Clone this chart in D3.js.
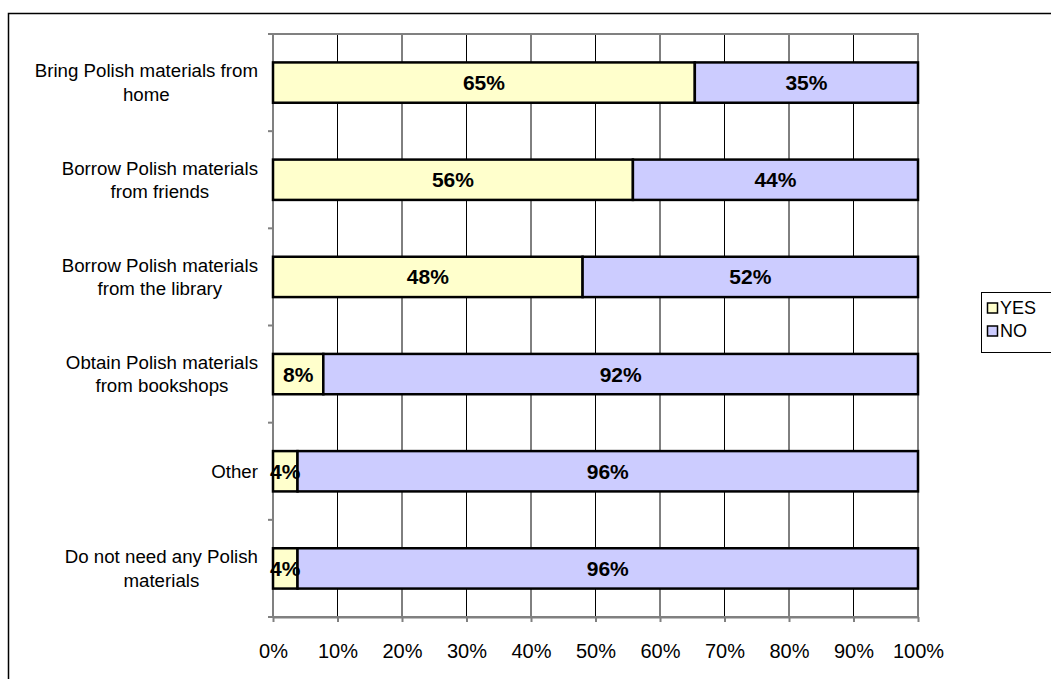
<!DOCTYPE html>
<html>
<head>
<meta charset="utf-8">
<script src="https://cdn.jsdelivr.net/npm/d3@7/dist/d3.min.js"></script>
<style>
  html, body { margin: 0; padding: 0; background: #fff; }
  svg { display: block; font-family: Arial, "Liberation Sans", sans-serif; }
</style>
</head>
<body>
<svg id="chart" width="1051" height="679"></svg>
<script>
const categories = [
  ["Bring Polish materials from", "home"],
  ["Borrow Polish materials", "from friends"],
  ["Borrow Polish materials", "from the library"],
  ["Obtain Polish materials", "from bookshops"],
  ["Other"],
  ["Do not need any Polish", "materials"]
];
const seriesNames = ["YES", "NO"];
const yesValues = [65.4, 55.8, 48.0, 7.8, 3.8, 3.8];
const noValues = [34.6, 44.2, 52.0, 92.2, 96.2, 96.2];
const yesLabels = ["65%", "56%", "48%", "8%", "4%", "4%"];
const noLabels = ["35%", "44%", "52%", "92%", "96%", "96%"];
const xTicks = [0, 10, 20, 30, 40, 50, 60, 70, 80, 90, 100];
const colors = ["#FFFFCC", "#CCCCFF"];

const svg = d3.select("#chart");
const plot = { left: 273, right: 918, top: 34, bottom: 617 };

// outer chart border
svg.append("rect")
  .attr("x", 8.5).attr("y", 13.5)
  .attr("width", 1100).attr("height", 700)
  .attr("fill", "none").attr("stroke", "#000").attr("stroke-width", 1.5);

const x = d3.scaleLinear().domain([0, 100]).range([plot.left, plot.right]);
const idx = categories.map((d, i) => i);
const y = d3.scaleBand().domain(idx).range([plot.top, plot.bottom])
  .paddingInner(0.585).paddingOuter(0.2925);

// vertical gridlines
svg.append("g").selectAll("line").data(xTicks.slice(1, -1)).join("line")
  .attr("x1", d => x(d)).attr("x2", d => x(d))
  .attr("y1", plot.top).attr("y2", plot.bottom)
  .attr("stroke", "#000").attr("stroke-width", 1);

// plot border (grey)
svg.append("rect")
  .attr("x", plot.left).attr("y", plot.top)
  .attr("width", plot.right - plot.left).attr("height", plot.bottom - plot.top)
  .attr("fill", "none").attr("stroke", "#808080").attr("stroke-width", 2);

// bottom axis
const xAxis = d3.axisBottom(x).tickValues(xTicks).tickFormat(d => d + "%")
  .tickSizeInner(5).tickSizeOuter(0).tickPadding(22);
const gx = svg.append("g").attr("transform", `translate(0,${plot.bottom})`).call(xAxis);
gx.select(".domain").attr("stroke", "#808080").attr("stroke-width", 2);
gx.selectAll(".tick line").attr("stroke", "#808080").attr("stroke-width", 2);
gx.selectAll(".tick text").attr("font-size", 20).attr("fill", "#000")
  .attr("font-family", "Arial, 'Liberation Sans', sans-serif");

// left axis ticks at band boundaries
const bandStep = (plot.bottom - plot.top) / categories.length;
const boundaries = d3.range(categories.length + 1).map(i => plot.top + i * bandStep);
svg.append("g").selectAll("line").data(boundaries).join("line")
  .attr("x1", plot.left - 5).attr("x2", plot.left)
  .attr("y1", d => d).attr("y2", d => d)
  .attr("stroke", "#808080").attr("stroke-width", 2);

// category labels: block right-aligned, lines centered
const labelRight = 258;
const lineH = 23.5;
const catG = svg.append("g").attr("font-size", 18.7).attr("fill", "#000");
categories.forEach((lines, i) => {
  const cy = y(i) + y.bandwidth() / 2;
  const g = catG.append("g");
  const texts = lines.map((ln, j) => g.append("text")
    .attr("text-anchor", "middle")
    .attr("y", cy + (j - (lines.length - 1) / 2) * lineH)
    .attr("dy", "0.35em")
    .text(ln));
  const w = d3.max(texts, t => t.node().getComputedTextLength());
  texts.forEach(t => t.attr("x", labelRight - w / 2));
});

// bars
const stacked = idx.map(i => {
  const yv = yesValues[i], nv = noValues[i];
  return [
    { i, s: 0, x0: 0, x1: yv, label: yesLabels[i] },
    { i, s: 1, x0: yv, x1: yv + nv, label: noLabels[i] }
  ];
}).flat();

svg.append("g").selectAll("rect").data(stacked).join("rect")
  .attr("x", d => x(d.x0)).attr("y", d => y(d.i))
  .attr("width", d => x(d.x1) - x(d.x0)).attr("height", y.bandwidth())
  .attr("fill", d => colors[d.s])
  .attr("stroke", "#000").attr("stroke-width", 2.5);

svg.append("g").selectAll("text").data(stacked).join("text")
  .attr("x", d => (x(d.x0) + x(d.x1)) / 2)
  .attr("y", d => y(d.i) + y.bandwidth() / 2)
  .attr("dy", "0.36em")
  .attr("text-anchor", "middle")
  .attr("font-weight", "bold").attr("font-size", 21)
  .text(d => d.label);

// legend
const lg = svg.append("g");
lg.append("rect").attr("x", 981.5).attr("y", 292.5).attr("width", 120).attr("height", 60)
  .attr("fill", "#fff").attr("stroke", "#000").attr("stroke-width", 1);
seriesNames.forEach((name, j) => {
  const ly = 308 + j * 23;
  lg.append("rect").attr("x", 987.5).attr("y", ly - 5).attr("width", 10).attr("height", 10)
    .attr("fill", colors[j]).attr("stroke", "#000").attr("stroke-width", 1.5);
  lg.append("text").attr("x", 1000).attr("y", ly).attr("dy", "0.36em")
    .attr("font-size", 18).text(name);
});
</script>
</body>
</html>
